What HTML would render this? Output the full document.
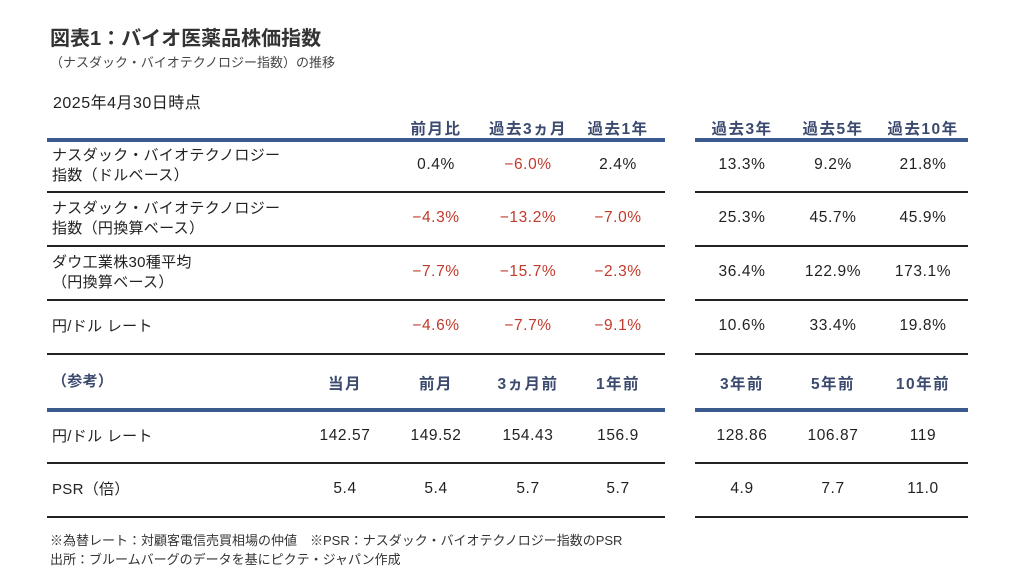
<!DOCTYPE html>
<html><head><meta charset="utf-8"><style>
body{margin:0;width:1015px;height:579px;background:#fff;position:relative;overflow:hidden;font-family:"Liberation Sans","Noto Sans CJK JP",sans-serif;color:#222}
.a{position:absolute;white-space:nowrap}
.c{position:absolute;transform:translateX(-50%);white-space:nowrap;font-size:15.5px;letter-spacing:0.6px}
.h{color:#3b4a6e;font-weight:bold;font-size:15.5px;letter-spacing:1.5px}
.r{color:#c0392b}
.l{position:absolute;height:2px;background:#222}
.b{position:absolute;height:4px;background:#3b5b8f}
.lab{position:absolute;left:52px;font-size:15px;line-height:20px;letter-spacing:0.3px}
</style></head><body>
<div class="a" style="left:50px;top:22px;font-size:20px;font-weight:bold;color:#333">図表1：バイオ医薬品株価指数</div>
<div class="a" style="left:50px;top:52px;font-size:13px;color:#444">（ナスダック・バイオテクノロジー指数）の推移</div>
<div class="a" style="left:53px;top:89px;font-size:16px;color:#222;letter-spacing:0.5px">2025年4月30日時点</div>
<div id="t"></div>
<div class="a" style="left:50px;top:531px;font-size:13px;line-height:19px;color:#333">※為替レート：対顧客電信売買相場の仲値　※PSR：ナスダック・バイオテクノロジー指数のPSR<br>出所：ブルームバーグのデータを基にピクテ・ジャパン作成</div>
<script>
const headers1=["前月比","過去3ヵ月","過去1年","過去3年","過去5年","過去10年"];
const rowLabels=["ナスダック・バイオテクノロジー<br>指数（ドルベース）","ナスダック・バイオテクノロジー<br>指数（円換算ベース）","ダウ工業株30種平均<br>（円換算ベース）","円/ドル レート"];
const returns=[[0.4,-6.0,2.4,13.3,9.2,21.8],[-4.3,-13.2,-7.0,25.3,45.7,45.9],[-7.7,-15.7,-2.3,36.4,122.9,173.1],[-4.6,-7.7,-9.1,10.6,33.4,19.8]];
const headers2=["当月","前月","3ヵ月前","1年前","3年前","5年前","10年前"];
const refLabels=["円/ドル レート","PSR（倍）"];
const refValues=[["142.57","149.52","154.43","156.9","128.86","106.87","119"],["5.4","5.4","5.7","5.7","4.9","7.7","11.0"]];
const cx1=[436,528,618,742,833,923];
const cx2=[345,436,528,618,742,833,923];
const T=document.getElementById('t');
function add(cls,html,style){const d=document.createElement('div');d.className=cls;d.innerHTML=html;d.style.cssText=style;T.appendChild(d);return d;}
function lines(y,cls){
 const a=add(cls,'',`left:47px;width:618px;top:${y}px`);
 
 
 const b=add(cls,'',`left:695px;width:273px;top:${y}px`);
 
 
}
headers1.forEach((h,i)=>{const d=add('c h',h,`left:${cx1[i]}px;top:117px`);
 
 });
lines(138,'b');
const rowTops=[192,246,300,354];
rowLabels.forEach((l,r)=>{
 const y0=r?rowTops[r-1]:140;const mid=(y0+rowTops[r])/2;
 const two=l.includes('<br>');
 const d=add('lab',l,`top:${mid-(two?20:10)}px`);
 
 
 returns[r].forEach((v,i)=>{
  const e=add('c'+(v<0?' r':''),(v<0?'−'+Math.abs(v).toFixed(1):v.toFixed(1))+'%',`left:${cx1[i]}px;top:${mid-10}px`);
  
  
 });
 lines(rowTops[r]-1,'l');
});
const ref=add('lab h','（参考）','top:372px');


headers2.forEach((h,i)=>{const d=add('c h',h,`left:${cx2[i]}px;top:372px`);
 
 });
lines(408,'b');
const refTops=[463,517];
refLabels.forEach((l,r)=>{
 const y0=r?refTops[r-1]:410;const mid=(y0+refTops[r])/2;
 const d=add('lab',l,`top:${mid-10}px`);
 
 
 refValues[r].forEach((v,i)=>{const e=add('c',v,`left:${cx2[i]}px;top:${mid-10}px`);
  
  });
 lines(refTops[r]-1,'l');
});
</script>
</body></html>
